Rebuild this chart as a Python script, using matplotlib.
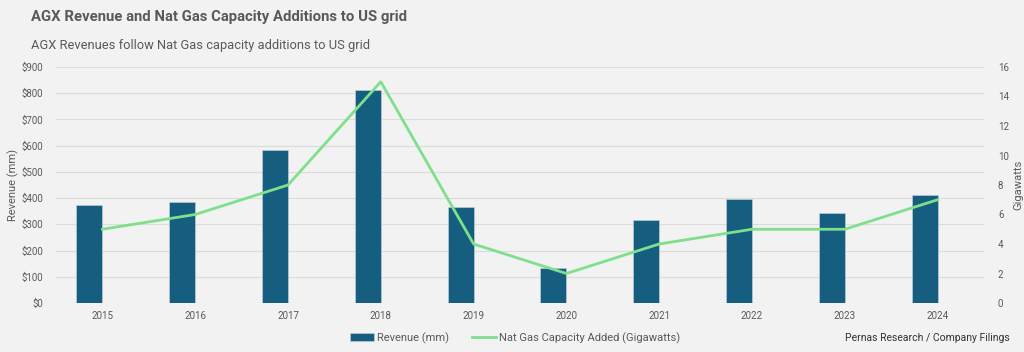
import matplotlib
matplotlib.use("Agg")
import matplotlib.pyplot as plt
import numpy as np

years = ["2015", "2016", "2017", "2018", "2019", "2020", "2021", "2022", "2023", "2024"]
revenue = [375, 385, 585, 813, 365, 135, 318, 396, 345, 413]
gas_gw = [5, 6, 8, 15, 4, 2, 4, 5, 5, 7]

BG = "#F2F2F2"
BAR = "#155E7F"
LINE = "#7FE08C"
TXT = "#595959"
GRID = "#DCDCDC"

plt.rcParams['font.family'] = ['Roboto', 'DejaVu Sans']

fig = plt.figure(figsize=(10.24, 3.52), dpi=100, facecolor=BG)
ax = fig.add_axes([56/1024, 1-303/352, (984-56)/1024, (303-67)/352])
ax.set_facecolor(BG)
x = np.arange(len(years))
ax.bar(x, revenue, width=-0.28, align='edge', color=BAR, edgecolor="#c8d4dc", linewidth=0.4, zorder=2,
       label="Revenue (mm)")
ax.set_ylim(0, 900)
ax.set_xlim(-0.5, len(years) - 0.5)
ax.set_yticks(np.arange(0, 901, 100))
ax.set_yticklabels([f"${v}" for v in range(0, 901, 100)])
ax.set_xticks(x)
ax.set_xticklabels(years)
ax.yaxis.grid(True, color=GRID, linewidth=0.8, zorder=0)
ax.set_axisbelow(True)
for s in ax.spines.values():
    s.set_visible(False)
ax.tick_params(axis='both', length=0, colors=TXT, labelsize=7)
ax.tick_params(axis='y', pad=9)
ax.tick_params(axis='x', pad=6)
ax.set_ylabel("Revenue (mm)", color=TXT, fontsize=8, labelpad=2)

ax2 = ax.twinx()
ax2.plot(x, gas_gw, color=LINE, linewidth=2, zorder=3, label="Nat Gas Capacity Added (Gigawatts)")
ax2.set_ylim(0, 16)
ax2.set_yticks(np.arange(0, 17, 2))
for s in ax2.spines.values():
    s.set_visible(False)
ax2.tick_params(axis='y', length=0, colors=TXT, labelsize=7, pad=10)
ax2.set_ylabel("Gigawatts", color=TXT, fontsize=8, labelpad=3, rotation=90)

fig.text(31/1024, 1-17/352, "AGX Revenue and Nat Gas Capacity Additions to US grid",
         fontsize=10.7, fontweight='bold', color=TXT, va='center', ha='left')
fig.text(31/1024, 1-46/352, "AGX Revenues follow Nat Gas capacity additions to US grid",
         fontsize=9.3, color=TXT, va='center', ha='left')

h1, l1 = ax.get_legend_handles_labels()
h2, l2 = ax2.get_legend_handles_labels()
fig.legend(h1 + h2, l1 + l2, loc='center', bbox_to_anchor=(515/1024, 1-338/352), ncol=2,
           frameon=False, fontsize=8, labelcolor=TXT, handlelength=2.2, handletextpad=0.3,
           columnspacing=2.0)
fig.text(1010/1024, 1-338/352, "Pernas Research / Company Filings", fontsize=7.5, color="#333333",
         ha='right', va='center')

fig.savefig("out.png", dpi=100, facecolor=BG)
